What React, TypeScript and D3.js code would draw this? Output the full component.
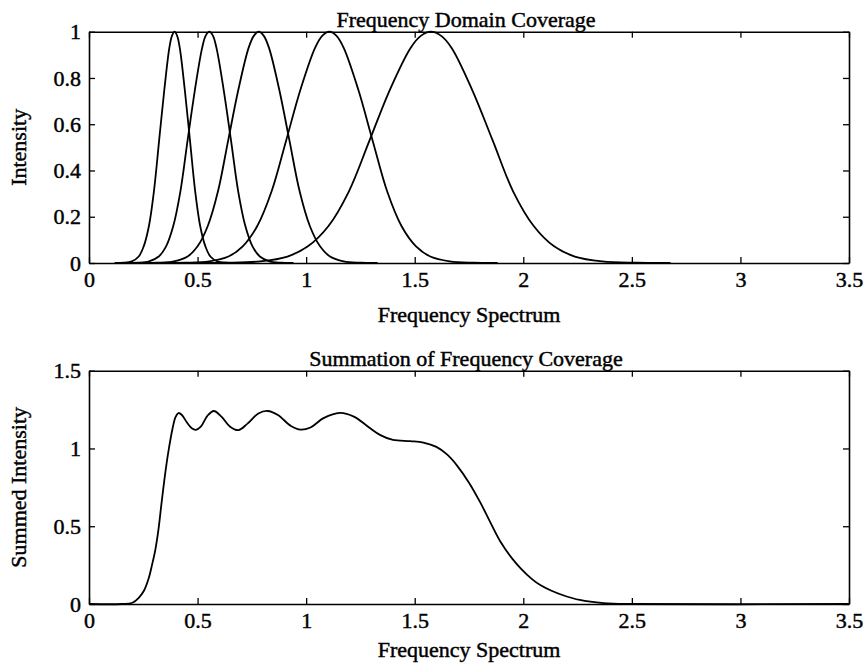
import React, { useRef, useEffect } from 'react';
import * as d3 from 'd3';

const xTicks = [0, 0.5, 1, 1.5, 2, 2.5, 3, 3.5];
const topYTicks = [0, 0.2, 0.4, 0.6, 0.8, 1];
const bottomYTicks = [0, 0.5, 1, 1.5];

const bandLevels = [0, 0.001, 0.007, 0.028, 0.072, 0.16, 0.31, 0.53, 0.75, 0.93, 0.982, 1,
  0.982, 0.93, 0.75, 0.53, 0.31, 0.16, 0.072, 0.028, 0.007, 0.001, 0];
const band1 = [0.118, 0.158, 0.197, 0.229, 0.252, 0.276, 0.299, 0.323, 0.347, 0.37, 0.382, 0.394,
  0.406, 0.418, 0.441, 0.465, 0.489, 0.512, 0.536, 0.559, 0.591, 0.63, 0.67];
const band2 = [0.166, 0.222, 0.277, 0.321, 0.355, 0.388, 0.421, 0.454, 0.488, 0.521, 0.537, 0.554,
  0.571, 0.587, 0.62, 0.654, 0.687, 0.72, 0.753, 0.787, 0.831, 0.886, 0.942];
const band3 = [0.235, 0.313, 0.391, 0.454, 0.5, 0.547, 0.594, 0.641, 0.688, 0.735, 0.759, 0.782,
  0.805, 0.829, 0.876, 0.923, 0.97, 1.017, 1.064, 1.11, 1.173, 1.251, 1.329];
const band4 = [0.332, 0.443, 0.554, 0.642, 0.708, 0.775, 0.841, 0.908, 0.974, 1.041, 1.074, 1.107,
  1.14, 1.173, 1.24, 1.306, 1.373, 1.439, 1.506, 1.572, 1.661, 1.771, 1.882];
const band5 = [0.473, 0.63, 0.788, 0.914, 1.008, 1.103, 1.197, 1.292, 1.386, 1.481, 1.528, 1.575,
  1.622, 1.67, 1.764, 1.859, 1.953, 2.048, 2.142, 2.237, 2.363, 2.52, 2.678];

// summed coverage
const sumFreq = [0, 0.15, 0.2, 0.229, 0.253, 0.275, 0.29, 0.305, 0.32, 0.335, 0.353, 0.368, 0.385,
  0.398, 0.412, 0.428, 0.452, 0.475, 0.492, 0.515, 0.545, 0.575, 0.61, 0.65, 0.688, 0.73, 0.78,
  0.823, 0.87, 0.93, 0.975, 1.02, 1.08, 1.155, 1.22, 1.29, 1.342, 1.4, 1.48, 1.54, 1.6, 1.65,
  1.695, 1.75, 1.803, 1.85, 1.895, 1.95, 1.99, 2.04, 2.08, 2.13, 2.18, 2.26, 2.37, 2.5, 3.5];
const sumIntensity = [0, 0, 0.008, 0.04, 0.085, 0.165, 0.25, 0.345, 0.48, 0.66, 0.861, 1.0, 1.13,
  1.2, 1.228, 1.215, 1.165, 1.128, 1.12, 1.14, 1.21, 1.241, 1.205, 1.14, 1.118, 1.16, 1.225,
  1.241, 1.215, 1.145, 1.121, 1.135, 1.195, 1.229, 1.205, 1.135, 1.086, 1.055, 1.047, 1.038, 1.01,
  0.96, 0.89, 0.78, 0.65, 0.52, 0.4, 0.29, 0.226, 0.16, 0.12, 0.085, 0.058, 0.026, 0.006, 0, 0];

const FONT = '"Liberation Serif", "Times New Roman", serif';

const App = () => {
  const svgRef = useRef(null);

  useEffect(() => {
    const svg = d3.select(svgRef.current);
    svg.selectAll('*').remove();

    const panels = [
      {
        top: 31.7, bottom: 263, yMax: 1, yTicks: topYTicks,
        title: 'Frequency Domain Coverage', ylabel: 'Intensity', xlabelY: 321.5,
        series: [band1, band2, band3, band4, band5].map(b => b.map((f, i) => [f, bandLevels[i]])),
      },
      {
        top: 370.7, bottom: 604, yMax: 1.5, yTicks: bottomYTicks,
        title: 'Summation of Frequency Coverage', ylabel: 'Summed Intensity', xlabelY: 656.5,
        series: [sumFreq.map((f, i) => [f, sumIntensity[i]])],
      },
    ];

    panels.forEach(p => {
      const x = d3.scaleLinear().domain([0, 3.5]).range([89, 849]);
      const y = d3.scaleLinear().domain([0, p.yMax]).range([p.bottom, p.top]);
      const g = svg.append('g');

      const fmt = d => d3.format('')(d);
      g.append('g')
        .attr('transform', `translate(0,${p.bottom})`)
        .call(d3.axisBottom(x).tickValues(xTicks).tickFormat(fmt).tickSizeInner(-6).tickSizeOuter(0).tickPadding(8.5));
      g.append('g')
        .attr('transform', `translate(0,${p.top})`)
        .call(d3.axisTop(x).tickValues(xTicks).tickFormat(() => '').tickSizeInner(-6).tickSizeOuter(0));
      g.append('g')
        .attr('transform', 'translate(89,0)')
        .call(d3.axisLeft(y).tickValues(p.yTicks).tickFormat(fmt).tickSizeInner(-6).tickSizeOuter(0).tickPadding(8));
      g.append('g')
        .attr('transform', 'translate(849,0)')
        .call(d3.axisRight(y).tickValues(p.yTicks).tickFormat(() => '').tickSizeInner(-6).tickSizeOuter(0));

      g.selectAll('.domain').attr('stroke', '#000').attr('stroke-width', 1.6);
      g.selectAll('.tick line').attr('stroke', '#000').attr('stroke-width', 1.3);
      g.selectAll('.tick text')
        .attr('font-family', FONT)
        .attr('font-size', 22)
        .attr('fill', '#000')
        .attr('stroke', '#000')
        .attr('stroke-width', 0.45);

      // clamp the tiny overshoot of the spline at the tails so it stays on the baseline
      const line = d3.line()
        .x(d => x(d[0]))
        .y(d => Math.min(y(d[1]), p.bottom))
        .curve(d3.curveCatmullRom.alpha(0.5));
      g.selectAll('.curve')
        .data(p.series)
        .join('path')
        .attr('class', 'curve')
        .attr('d', line)
        .attr('fill', 'none')
        .attr('stroke', '#000')
        .attr('stroke-width', 1.8);

      const label = sel => sel
        .attr('font-family', FONT)
        .attr('font-size', 22)
        .attr('fill', '#000')
        .attr('stroke', '#000')
        .attr('stroke-width', 0.45)
        .attr('text-anchor', 'middle');

      g.append('text').text(p.title)
        .attr('x', 466).attr('y', p.top - 5).call(label);
      g.append('text').text('Frequency Spectrum')
        .attr('x', 469).attr('y', p.xlabelY).call(label);
      g.append('text').text(p.ylabel)
        .attr('transform', `translate(26,${(p.top + p.bottom) / 2}) rotate(-90)`).call(label);
    });
  }, []);

  return (
    <svg
      ref={svgRef}
      width={865}
      height={664}
      style={{ position: 'absolute', left: 0, top: 0, background: '#fff' }}
    />
  );
};

export default App;
